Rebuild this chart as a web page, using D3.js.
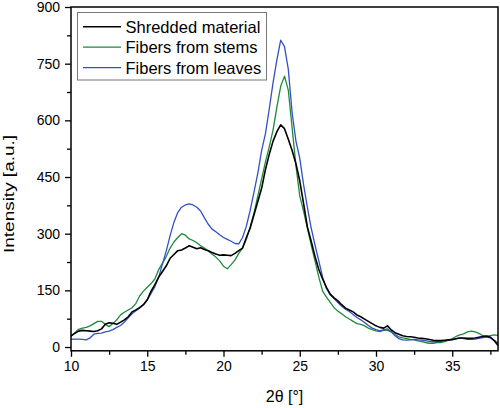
<!DOCTYPE html>
<html>
<head>
<meta charset="utf-8">
<script src="https://cdn.jsdelivr.net/npm/d3@7/dist/d3.min.js"></script>
<style>
html,body{margin:0;padding:0;background:#fff;}
svg{display:block;font-family:"Liberation Sans",Arial,sans-serif;}
</style>
</head>
<body>
<svg id="chart" width="500" height="408"></svg>
<script>
// 2θ positions (degrees)
const twoTheta = d3.range(10, 38.0001, 0.25);

const shredded = [
 30,36,42,44,43,42,41,43,48,60,64,63,60,66,72,80,93,98,104,112,
 125,148,165,185,200,215,235,245,255,257,262,268,264,260,263,258,255,250,246,243,
 244,243,242,248,255,262,290,315,350,385,420,470,510,545,570,588,578,550,520,485,
 440,380,318,280,240,205,180,158,140,130,122,112,103,98,93,85,80,74,68,62,
 56,52,50,56,45,38,34,30,28,27,26,24,23,22,20,18,17,17,18,19,
 20,22,24,24,23,23,24,26,28,29,26,17,4
];

const stems = [
 28,38,47,50,52,56,62,68,68,60,54,62,72,85,92,98,104,115,135,148,
 158,168,180,205,222,240,262,278,290,300,296,286,282,276,268,262,254,246,238,228,
 214,207,218,230,248,262,285,318,355,400,445,490,530,575,635,690,717,680,580,480,
 400,360,315,270,228,185,148,132,118,104,95,88,80,74,68,62,60,56,50,46,
 43,41,44,44,40,33,27,24,22,20,19,16,14,12,10,10,12,12,14,18,
 22,28,32,35,40,42,40,36,30,28,30,32,31
];

const leaves = [
 20,21,21,20,19,24,34,36,37,40,42,46,52,57,66,77,88,96,104,112,
 125,142,160,185,220,255,295,330,356,370,376,379,376,370,360,342,325,312,305,297,
 290,285,280,274,273,290,320,362,410,460,520,565,630,700,760,812,795,735,620,545,
 500,430,370,315,270,228,185,155,138,128,118,108,100,94,86,78,72,65,57,50,
 46,43,46,48,40,30,22,19,18,19,20,19,18,17,15,14,14,15,16,18,
 19,22,24,22,20,20,21,23,25,26,24,18,10
];

const seriesNames = ["Shredded material", "Fibers from stems", "Fibers from leaves"];
const seriesColors = ["#000000", "#1e8a3e", "#3350c4"];
const seriesData = [shredded, stems, leaves];

const xTicks = [10, 15, 20, 25, 30, 35];
const yTicks = [0, 150, 300, 450, 600, 750, 900];

(function () {
const svg = d3.select("#chart");
const pL = 71, pR = 498, pT = 7, pB = 350.8;

const x = d3.scaleLinear().domain([10, 38]).range([pL, pR]);
const y = d3.scaleLinear().domain([-10, 900]).range([pB, pT]);

// lines (stems, leaves, then shredded on top)
const line = d3.line().x((d, i) => x(twoTheta[i])).y(d => y(d));
const g = svg.append("g");
[1, 2, 0].forEach(k => {
  g.append("path")
    .datum(seriesData[k])
    .attr("fill", "none")
    .attr("stroke", seriesColors[k])
    .attr("stroke-width", k === 0 ? 1.6 : 1.3)
    .attr("stroke-linejoin", "round")
    .attr("d", line);
});

// frame
svg.append("rect")
  .attr("x", pL).attr("y", pT)
  .attr("width", pR - pL).attr("height", pB - pT)
  .attr("fill", "none").attr("stroke", "#000").attr("stroke-width", 1.5);

// x axis
const xAxis = d3.axisBottom(x).tickValues(xTicks).tickSize(6).tickPadding(4).tickFormat(d3.format("d"));
const xg = svg.append("g").attr("transform", `translate(0,${pB})`).call(xAxis);
xg.select(".domain").remove();
xg.selectAll("line").attr("stroke-width", 1.3);
xg.selectAll("text").attr("font-size", 14).attr("fill", "#000").attr("font-family", "Liberation Sans, Arial, sans-serif");
const xMinor = d3.axisBottom(x).tickValues(d3.range(12.5, 38, 5)).tickSize(4).tickFormat("");
const xmg = svg.append("g").attr("transform", `translate(0,${pB})`).call(xMinor);
xmg.select(".domain").remove();
xmg.selectAll("line").attr("stroke-width", 1.3);

// y axis
const yAxis = d3.axisLeft(y).tickValues(yTicks).tickSize(6).tickPadding(5).tickFormat(d3.format("d"));
const yg = svg.append("g").attr("transform", `translate(${pL},0)`).call(yAxis);
yg.select(".domain").remove();
yg.selectAll("line").attr("stroke-width", 1.3);
yg.selectAll("text").attr("font-size", 14).attr("fill", "#000").attr("font-family", "Liberation Sans, Arial, sans-serif");
const yMinor = d3.axisLeft(y).tickValues(d3.range(75, 900, 150)).tickSize(4).tickFormat("");
const ymg = svg.append("g").attr("transform", `translate(${pL},0)`).call(yMinor);
ymg.select(".domain").remove();
ymg.selectAll("line").attr("stroke-width", 1.3);

// axis titles
svg.append("text")
  .attr("x", (pL + pR) / 2).attr("y", 402)
  .attr("text-anchor", "middle").attr("font-size", 16).attr("fill", "#000")
  .text("2θ [°]");
svg.append("text")
  .attr("transform", `translate(13.5,194) rotate(-90)`)
  .attr("text-anchor", "middle").attr("font-size", 15.5).attr("fill", "#000")
  .attr("textLength", 118).attr("lengthAdjust", "spacingAndGlyphs")
  .text("Intensity [a.u.]");

// legend
const lg = svg.append("g");
lg.append("rect")
  .attr("x", 77.5).attr("y", 12.5).attr("width", 189).attr("height", 67.5)
  .attr("fill", "#fff").attr("stroke", "#777").attr("stroke-width", 1);
seriesNames.forEach((name, k) => {
  const cy = 26.7 + k * 20.5;
  lg.append("line").attr("x1", 83).attr("x2", 121).attr("y1", cy).attr("y2", cy)
    .attr("stroke", seriesColors[k]).attr("stroke-width", k === 0 ? 1.6 : 1.3);
  lg.append("text").attr("x", 125.5).attr("y", cy + 5.8)
    .attr("font-size", 16.5).attr("fill", "#000").text(name);
});
})();
</script>
</body>
</html>
